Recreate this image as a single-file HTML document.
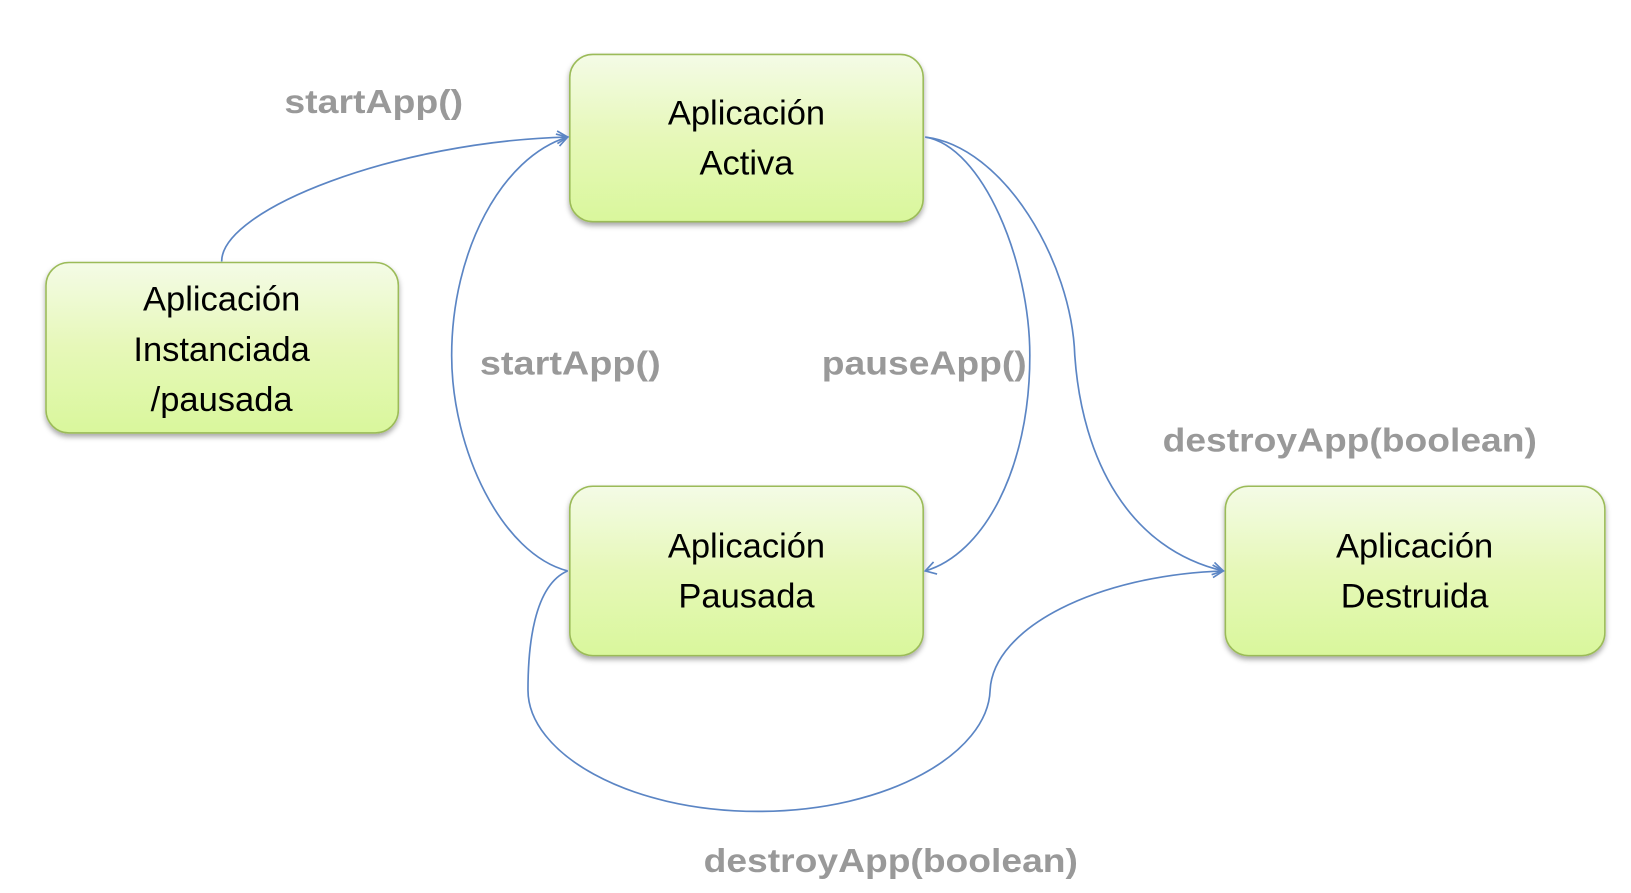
<!DOCTYPE html>
<html><head><meta charset="utf-8"><style>
html,body{margin:0;padding:0;background:#fff;}
svg{display:block;}
.box{stroke:#9bbb59;stroke-width:1.5;fill:url(#g);filter:url(#sh);}
.t{font-family:"Liberation Sans",sans-serif;font-size:33px;fill:#000;text-anchor:middle;}
.l{font-family:"Liberation Sans",sans-serif;font-size:32px;font-weight:bold;fill:#999;}
.c{fill:none;stroke:#5b85c4;stroke-width:1.6;}
</style></head><body>
<svg width="1631" height="893" viewBox="0 0 1560 854" xmlns="http://www.w3.org/2000/svg">
<defs>
<linearGradient id="g" x1="0" y1="0" x2="0" y2="1">
<stop offset="0" stop-color="#f4fbe6"/><stop offset="0.5" stop-color="#e6f8b8"/><stop offset="1" stop-color="#d9f79c"/>
</linearGradient>
<filter id="sh" x="-10%" y="-10%" width="120%" height="130%"><feDropShadow dx="0" dy="3" stdDeviation="2.5" flood-color="#000" flood-opacity="0.35"/></filter>
<marker id="a" markerWidth="14" markerHeight="14" refX="12" refY="7" orient="auto" markerUnits="userSpaceOnUse"><path d="M2,1 L12,7 L2,13" fill="none" stroke="#5b85c4" stroke-width="1.6"/></marker>
</defs>
<rect class="box" x="545" y="52" width="338" height="160" rx="22"/>
<rect class="box" x="44" y="251" width="337" height="163" rx="22"/>
<rect class="box" x="545" y="465" width="338" height="162" rx="22"/>
<rect class="box" x="1172" y="465" width="363" height="162" rx="22"/>
<text class="t" x="714" y="119">Aplicación</text><text class="t" x="714" y="167">Activa</text>
<text class="t" x="212" y="297">Aplicación</text><text class="t" x="212" y="345">Instanciada</text><text class="t" x="212" y="393">/pausada</text>
<text class="t" x="714" y="533">Aplicación</text><text class="t" x="714" y="581">Pausada</text>
<text class="t" x="1353" y="533">Aplicación</text><text class="t" x="1353" y="581">Destruida</text>
<path class="c" marker-end="url(#a)" d="M212,250 C212,200 380,135 543,131"/>
<path class="c" marker-end="url(#a)" d="M543,546 C480,530 432,430 432,340 C432,240 480,150 543,131"/>
<path class="c" marker-end="url(#a)" d="M885,131 C940,140 985,250 985,340 C985,450 940,530 885,546"/>
<path class="c" marker-end="url(#a)" d="M885,131 C960,140 1025,250 1028,340 C1035,440 1080,525 1170,546"/>
<path class="c" marker-end="url(#a)" d="M543,546 C510,560 505,620 505,660 C505,720 600,776 725,776 C850,776 945,720 947,660 C950,600 1050,550 1170,546"/>
<text class="l" x="272" y="108" textLength="171" lengthAdjust="spacingAndGlyphs">startApp()</text>
<text class="l" x="459" y="358" textLength="173" lengthAdjust="spacingAndGlyphs">startApp()</text>
<text class="l" x="786" y="358" textLength="196" lengthAdjust="spacingAndGlyphs">pauseApp()</text>
<text class="l" x="1112" y="432" textLength="358" lengthAdjust="spacingAndGlyphs">destroyApp(boolean)</text>
<text class="l" x="673" y="834" textLength="358" lengthAdjust="spacingAndGlyphs">destroyApp(boolean)</text>
</svg>
</body></html>
